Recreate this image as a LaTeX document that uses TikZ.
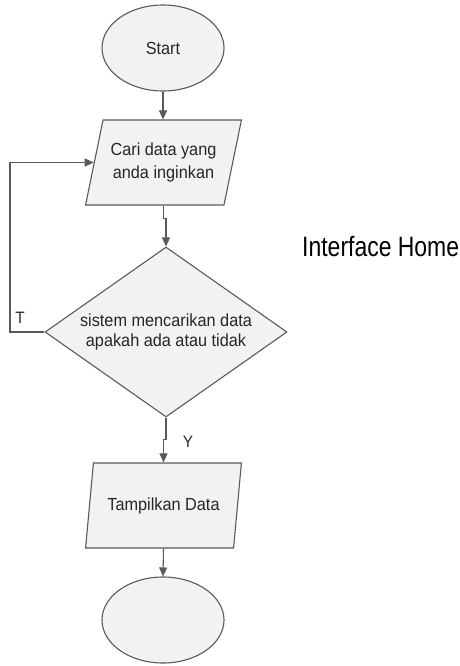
\documentclass[tikz,border=0pt]{standalone}
\usepackage{fontspec}
\setmainfont[FakeStretch=0.93]{Liberation Sans}
\newfontfamily\titlefont[FakeStretch=0.82]{Liberation Sans}
\usetikzlibrary{shapes.geometric,arrows.meta}
\definecolor{shapefill}{HTML}{F2F2F2}
\definecolor{shapeline}{HTML}{5A5A5A}
\definecolor{txt}{HTML}{262626}
\tikzset{
  box/.style={draw=shapeline, fill=shapefill, line width=1.1pt, text=txt,
    font=\fontsize{17.5}{23.5}\selectfont, align=center, inner sep=0pt},
  terminal/.style={box, ellipse, minimum width=122pt, minimum height=86pt},
  io/.style={box, trapezium, trapezium left angle=69, trapezium right angle=111,
    trapezium stretches=true, minimum width=156pt, minimum height=85pt},
  decision/.style={box, diamond, minimum width=242pt, minimum height=170pt,
    aspect=1.42, font=\fontsize{17.5}{20.5}\selectfont},
  flow/.style={draw=shapeline, line width=1.1pt,
    -{Triangle[length=9pt,width=8pt]}},
  tag/.style={text=txt, font=\fontsize{16.5}{18}\selectfont, inner sep=0pt}
}
\begin{document}
\begin{tikzpicture}[x=1pt,y=-1pt]
  \useasboundingbox (0,0) rectangle (460,666);

  \node[terminal] (start) at (163,48) {Start};
  \node[io] (cari) at (163.5,162.5) {Cari data yang\\anda inginkan};
  \node[decision] (cek) at (166,332) {sistem mencarikan data\\apakah ada atau tidak};
  \node[io] (tampil) at (163.5,505.5) {Tampilkan Data};
  \node[terminal] (stop) at (163,620) {};

  \node[anchor=west, inner sep=0pt, font=\titlefont\fontsize{28}{32}\selectfont]
    (judul) at (302,247) {Interface Home};

  \coordinate (balik) at (10,332);

  \draw[flow] (start.south) -- (start.south |- cari.north);
  \draw[flow] (cari.south) -- ++(0,13) -| (cek.north);
  \draw[flow] (cek.south) -- ++(0,22) -| (tampil.north);
  \draw[flow] (tampil.south) -- (stop.north);
  \draw[flow] (cek.west) -- (balik) |- (cari.west);

  \node[tag] (lblT) at (20,318) {T};
  \node[tag] (lblY) at (188,442) {Y};
\end{tikzpicture}
\end{document}
